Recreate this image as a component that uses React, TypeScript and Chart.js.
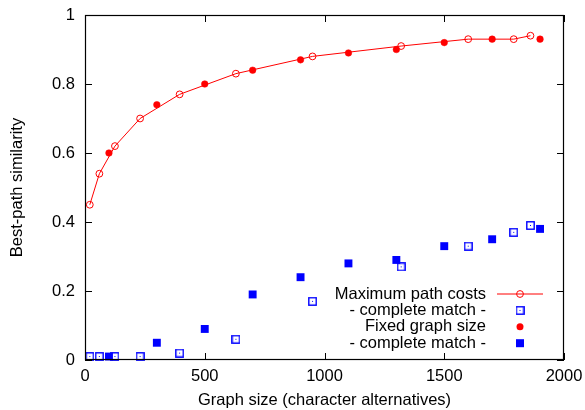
import React, { useEffect, useRef } from 'react';
import { Chart, registerables } from 'chart.js';

Chart.register(...registerables);

// Maximum path costs (open circles, connected line) and its complete-match rate (open squares)
const maxCostX = [20, 60, 125, 230, 395, 630, 950, 1320, 1600, 1790, 1860];
const maxCostSim = [0.45, 0.54, 0.62, 0.70, 0.77, 0.83, 0.88, 0.91, 0.93, 0.93, 0.94];
const maxCostComplete = [0.01, 0.01, 0.01, 0.01, 0.02, 0.06, 0.17, 0.27, 0.33, 0.37, 0.39];

// Fixed graph size (filled circles) and its complete-match rate (filled squares)
const fixedX = [100, 300, 500, 700, 900, 1100, 1300, 1500, 1700, 1900];
const fixedSim = [0.60, 0.74, 0.80, 0.84, 0.87, 0.89, 0.90, 0.92, 0.93, 0.93];
const fixedComplete = [0.01, 0.05, 0.09, 0.19, 0.24, 0.28, 0.29, 0.33, 0.35, 0.38];

const seriesLabels = ['Maximum path costs', '- complete match -', 'Fixed graph size', '- complete match -'];
const xTicks = [0, 500, 1000, 1500, 2000];
const yTicks = [0, 0.2, 0.4, 0.6, 0.8, 1];
const xTitle = 'Graph size (character alternatives)';
const yTitle = 'Best-path similarity';

const FONT = '"Liberation Sans", Arial, Helvetica, sans-serif';
const FS = 16.5;
const RED = '#ff0000';
const BLUE = '#0000ff';

function makeOpenSquare(): HTMLCanvasElement {
  const c = document.createElement('canvas');
  c.width = 9;
  c.height = 9;
  const g = c.getContext('2d')!;
  g.strokeStyle = BLUE;
  g.lineWidth = 1.4;
  g.strokeRect(0.8, 0.8, 7.4, 7.4);
  g.fillStyle = BLUE;
  g.fillRect(4, 4, 1, 1);
  return c;
}

export default function App() {
  const ref = useRef<HTMLCanvasElement | null>(null);

  useEffect(() => {
    document.body.style.margin = '0';
    const canvas = ref.current;
    if (!canvas) return;
    const openSquare = makeOpenSquare();

    const frameTicks = {
      id: 'frameTicks',
      afterDraw(chart: any) {
        const { ctx, scales } = chart;
        const tl = 7;
        const L = scales.x.getPixelForValue(0);
        const R = scales.x.getPixelForValue(2000);
        const B = scales.y.getPixelForValue(0);
        const T = scales.y.getPixelForValue(1);
        ctx.save();
        ctx.strokeStyle = '#000';
        ctx.lineWidth = 1.2;
        ctx.strokeRect(L + 0.5, T + 0.5, R - L - 1, B - T - 1);
        ctx.lineWidth = 1;
        ctx.beginPath();
        xTicks.forEach((v) => {
          const x = Math.round(scales.x.getPixelForValue(v)) + 0.5;
          ctx.moveTo(x, B);
          ctx.lineTo(x, B - tl);
          ctx.moveTo(x, T);
          ctx.lineTo(x, T + tl);
        });
        yTicks.forEach((v) => {
          const y = Math.round(scales.y.getPixelForValue(v)) + 0.5;
          ctx.moveTo(L, y);
          ctx.lineTo(L + tl, y);
          ctx.moveTo(R, y);
          ctx.lineTo(R - tl, y);
        });
        ctx.stroke();
        ctx.restore();
      },
    };

    const legend = {
      id: 'insideLegend',
      afterDraw(chart: any) {
        const { ctx, scales } = chart;
        const R = scales.x.getPixelForValue(2000);
        const B = scales.y.getPixelForValue(0);
        const textRight = R - 78;
        const sx = R - 44;
        const y0 = B - 66;
        ctx.save();
        ctx.font = `${FS}px ${FONT}`;
        ctx.textAlign = 'right';
        ctx.textBaseline = 'middle';
        ctx.fillStyle = '#000';
        chart.data.datasets.forEach((ds: any, i: number) => {
          const y = y0 + i * 16.4;
          ctx.fillText(ds.label, textRight, y);
          if (i === 0) {
            ctx.strokeStyle = RED;
            ctx.lineWidth = 1;
            ctx.beginPath();
            ctx.moveTo(sx - 23, y);
            ctx.lineTo(sx + 23, y);
            ctx.stroke();
            ctx.beginPath();
            ctx.arc(sx, y, 3.4, 0, Math.PI * 2);
            ctx.stroke();
          } else if (i === 1) {
            ctx.drawImage(openSquare, sx - 4.5, y - 4.5);
          } else if (i === 2) {
            ctx.fillStyle = RED;
            ctx.beginPath();
            ctx.arc(sx, y, 3.5, 0, Math.PI * 2);
            ctx.fill();
            ctx.fillStyle = '#000';
          } else {
            ctx.fillStyle = BLUE;
            ctx.fillRect(sx - 4, y - 4, 8, 8);
            ctx.fillStyle = '#000';
          }
        });
        ctx.restore();
      },
    };

    const chart = new Chart(canvas, {
      type: 'scatter',
      data: {
        datasets: [
          {
            label: seriesLabels[0],
            data: maxCostX.map((x, i) => ({ x, y: maxCostSim[i] })),
            showLine: true,
            borderColor: RED,
            borderWidth: 1,
            backgroundColor: 'rgba(0,0,0,0)',
            pointStyle: 'circle',
            pointRadius: 3.4,
            pointBorderWidth: 1,
            pointBorderColor: RED,
            pointBackgroundColor: 'rgba(0,0,0,0)',
            clip: false,
          },
          {
            label: seriesLabels[1],
            data: maxCostX.map((x, i) => ({ x, y: maxCostComplete[i] })),
            pointStyle: openSquare,
            pointRadius: 4.5,
            borderColor: BLUE,
            backgroundColor: BLUE,
            clip: false,
          },
          {
            label: seriesLabels[2],
            data: fixedX.map((x, i) => ({ x, y: fixedSim[i] })),
            pointStyle: 'circle',
            pointRadius: 3.3,
            pointBorderWidth: 0.5,
            pointBorderColor: RED,
            pointBackgroundColor: RED,
            clip: false,
          },
          {
            label: seriesLabels[3],
            data: fixedX.map((x, i) => ({ x, y: fixedComplete[i] })),
            pointStyle: 'rect',
            pointRadius: 5.6,
            pointBorderWidth: 0,
            pointBorderColor: BLUE,
            pointBackgroundColor: BLUE,
            clip: false,
          },
        ] as any,
      },
      options: {
        animation: false,
        responsive: false,
        events: [],
        layout: { padding: { top: 15, right: 21, left: 0, bottom: 0 } },
        plugins: {
          legend: { display: false },
          tooltip: { enabled: false },
        },
        scales: {
          x: {
            type: 'linear',
            min: 0,
            max: 2000,
            grid: { display: false, drawTicks: false },
            border: { display: false },
            afterBuildTicks: (s: any) => {
              s.ticks = xTicks.map((v) => ({ value: v }));
            },
            afterFit: (s: any) => {
              s.height = 50;
              s.paddingLeft = 0;
              s.paddingRight = 0;
            },
            ticks: {
              padding: 7,
              color: '#000',
              font: { family: FONT, size: FS },
              callback: (v: any) => String(v),
            },
            title: {
              display: true,
              text: xTitle,
              color: '#000',
              font: { family: FONT, size: FS },
              padding: { top: 0, bottom: 0 },
            },
          },
          y: {
            type: 'linear',
            min: 0,
            max: 1,
            grid: { display: false, drawTicks: false },
            border: { display: false },
            afterBuildTicks: (s: any) => {
              s.ticks = yTicks.map((v) => ({ value: v }));
            },
            afterFit: (s: any) => {
              s.width = 85;
              s.paddingTop = 0;
              s.paddingBottom = 0;
            },
            ticks: {
              padding: 10,
              color: '#000',
              font: { family: FONT, size: FS },
              callback: (v: any) => String(v),
            },
            title: {
              display: true,
              text: yTitle,
              color: '#000',
              font: { family: FONT, size: FS },
              padding: { top: 8, bottom: 0 },
            },
          },
        },
      } as any,
      plugins: [frameTicks, legend],
    });

    return () => {
      chart.destroy();
    };
  }, []);

  return (
    <div style={{ width: 585, height: 410 }}>
      <canvas ref={ref} width={585} height={410} style={{ display: 'block' }} />
    </div>
  );
}
